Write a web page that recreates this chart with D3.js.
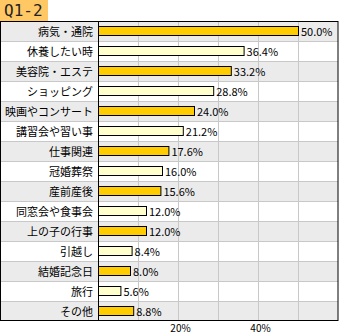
<!DOCTYPE html>
<html><head><meta charset="utf-8">
<script src="https://cdn.jsdelivr.net/npm/d3@7"></script>
<style>body{margin:0;background:#fff}svg{display:block}</style>
</head><body>
<script>
const title = "Q1-2";
const categories = ["病気・通院","休養したい時","美容院・エステ","ショッピング","映画やコンサート","講習会や習い事","仕事関連","冠婚葬祭","産前産後","同窓会や食事会","上の子の行事","引越し","結婚記念日","旅行","その他"];
const values = [50.0,36.4,33.2,28.8,24.0,21.2,17.6,16.0,15.6,12.0,12.0,8.4,8.0,5.6,8.8];
const tickValues = [0,10,20,30,40,50,60];
const tickLabels = ["20%","40%"];

(function(){
const W=339,H=336;
const mLeft=98,mRight=338,mTop=21,rowH=20;
const svg=d3.select("body").append("svg").attr("width",W).attr("height",H);
const x=d3.scaleLinear().domain([0,60]).range([mLeft,mRight]);
const y=d3.scaleBand().domain(categories).range([mTop,mTop+rowH*categories.length]);
const font='"Noto Sans CJK JP", sans-serif';

svg.append("rect").attr("x",0).attr("y",0).attr("width",48).attr("height",21).attr("fill","#ffc864");
svg.append("text").attr("x",4).attr("y",16).text(title).attr("font-family","'DejaVu Sans Mono', monospace").attr("font-size",16).attr("fill","#222");

svg.selectAll("rect.row").data(categories).join("rect")
 .attr("x",0).attr("y",d=>y(d)).attr("width",mRight).attr("height",y.bandwidth())
 .attr("fill",(d,i)=>i%2===0?"#ebebeb":"#ffffff");
svg.selectAll("line.h").data(categories.slice(1)).join("line")
 .attr("x1",0).attr("x2",mRight).attr("y1",d=>y(d)+0.5).attr("y2",d=>y(d)+0.5)
 .attr("stroke","#c8c8c8");
svg.selectAll("line.v").data(tickValues.slice(1,-1)).join("line")
 .attr("x1",d=>x(d)+0.5).attr("x2",d=>x(d)+0.5).attr("y1",mTop).attr("y2",y.range()[1])
 .attr("stroke","#c8c8c8");
svg.selectAll("rect.bar").data(values).join("rect")
 .attr("x",x(0)+0.5).attr("y",(d,i)=>y(categories[i])+5.5)
 .attr("width",d=>x(d)-x(0)).attr("height",9)
 .attr("fill",(d,i)=>i%2===0?"#ffcc00":"#ffffcc").attr("stroke","#000");
svg.selectAll("text.val").data(values).join("text")
 .attr("x",d=>x(d)+3).attr("y",(d,i)=>y(categories[i])+14.5)
 .text(d=>d.toFixed(1)+"%").attr("font-family",font).attr("font-size",11).attr("fill","#000");
svg.selectAll("text.cat").data(categories).join("text")
 .attr("x",93).attr("y",d=>y(d)+14.5).attr("text-anchor","end")
 .text(d=>d).attr("font-family",font).attr("font-size",11).attr("fill","#000");
svg.append("line").attr("x1",mLeft+0.5).attr("x2",mLeft+0.5).attr("y1",mTop).attr("y2",y.range()[1]).attr("stroke","#000");
svg.append("rect").attr("x",0.5).attr("y",mTop+0.5).attr("width",mRight-0.5).attr("height",rowH*categories.length-1).attr("fill","none").attr("stroke","#000");
const axis=d3.axisBottom(x).tickValues([20,40]).tickFormat((d,i)=>tickLabels[i]).tickSize(0).tickPadding(0);
const g=svg.append("g").attr("transform",`translate(2,${y.range()[1]})`).call(axis);
g.select(".domain").remove();
g.selectAll("text").attr("font-family",font).attr("font-size",10).attr("fill","#000").attr("y",11).attr("dy",0);
})();
</script>
</body></html>
